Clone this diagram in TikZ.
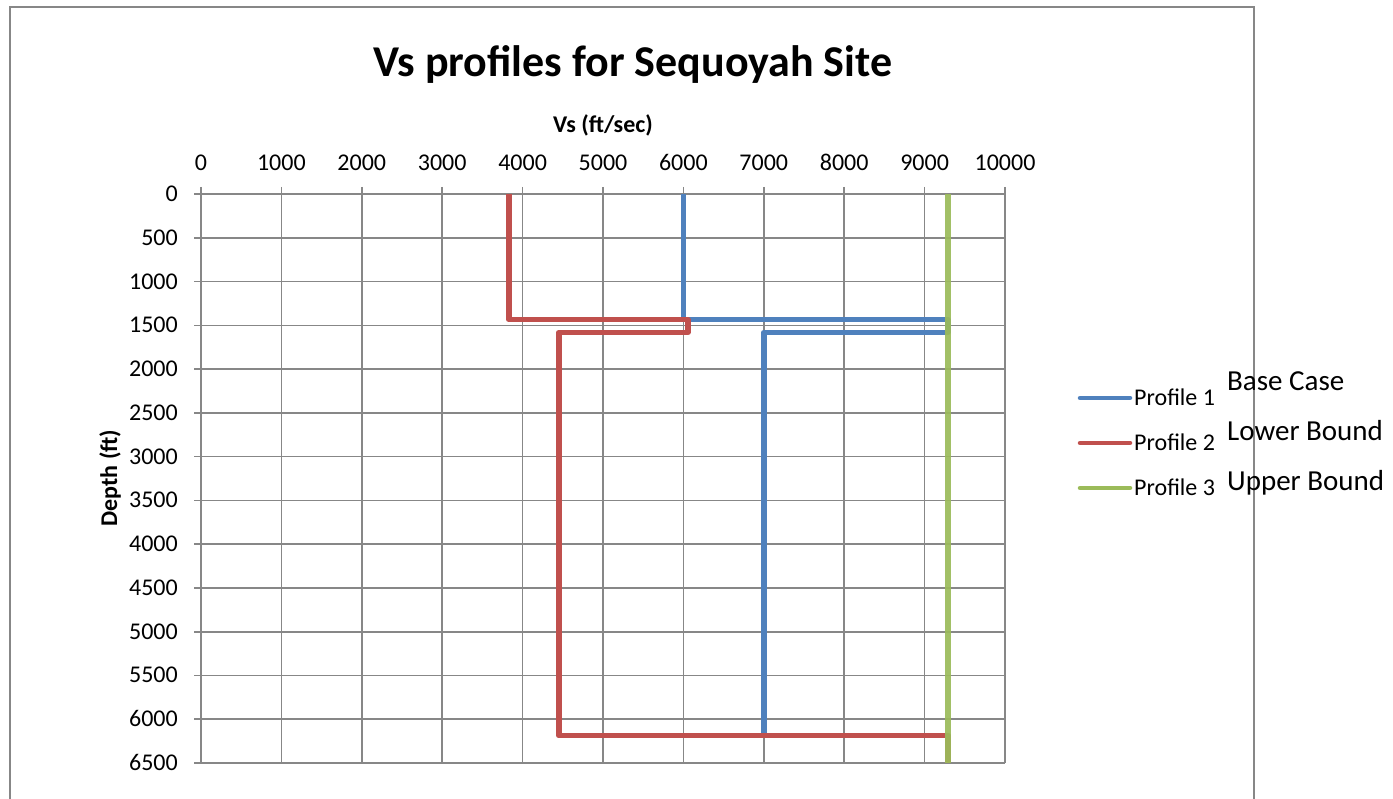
\documentclass[tikz,border=0pt]{standalone}
\usepackage{fontspec}
\setmainfont{Carlito}
\definecolor{sblue}{HTML}{4F81BD}
\definecolor{sred}{HTML}{C0504D}
\definecolor{sgreen}{HTML}{9BBB59}
\definecolor{gridgray}{HTML}{878787}
\begin{document}
\begin{tikzpicture}[x=1pt,y=-1pt,
  gridline/.style={draw=gridgray,line width=1.6pt},
  ticklab/.style={font=\fontsize{24}{28}\selectfont,inner sep=0pt},
  axlab/.style={font=\fontsize{24}{28}\selectfont\bfseries,inner sep=0pt},
  series/.style={line width=5.5pt,line join=round},
  legtext/.style={font=\fontsize{24}{28}\selectfont,inner sep=0pt,anchor=west},
  bigtext/.style={font=\fontsize{29}{33}\selectfont,inner sep=0pt,anchor=west}]
\useasboundingbox (0,0) rectangle (1393,799);
\clip (0,0) rectangle (1393,799);
\fill[white] (0,0) rectangle (1393,799);
\draw[draw=gridgray,line width=1.3pt] (10,7) rectangle (1254,830);
% title
\node[font=\fontsize{44}{50}\selectfont\bfseries,anchor=base,inner sep=0pt] (title) at (633,77) {Vs profiles for Sequoyah Site};
\node[axlab,anchor=base] (xlab) at (603,133) {Vs (ft/sec)};
\node[axlab,rotate=90] (ylab) at (110,478) {Depth (ft)};
% grid + ticks
\foreach \i in {0,...,10}{
  \pgfmathsetmacro{\xx}{201+80.4*\i}
  \draw[gridline] (\xx,187) -- (\xx,763);
  \pgfmathtruncatemacro{\lab}{1000*\i}
  \node[ticklab,anchor=base] (xt\i) at (\xx,170.5) {\lab};
}
\foreach \j in {0,...,13}{
  \pgfmathsetmacro{\yy}{194+43.77*\j}
  \draw[gridline] (194,\yy) -- (1005,\yy);
  \pgfmathtruncatemacro{\lab}{500*\j}
  \node[ticklab,anchor=base east] (yt\j) at (178,\yy+7.5) {\lab};
}
\begin{scope}[shift={(201,194)},x=0.0804pt,y=-0.08754pt]
  \draw[series,sblue] (6000,0) -- (6000,1435) -- (9290,1435) -- (9290,1582) -- (7000,1582) -- (7000,6188) -- (9290,6188) -- (9290,6500);
  \draw[series,sred] (3830,0) -- (3830,1435) -- (6055,1435) -- (6055,1582) -- (4450,1582) -- (4450,6188) -- (9290,6188) -- (9290,6500);
  \draw[series,sgreen,opacity=0.92] (9290,0) -- (9290,6500);
\end{scope}
% legend
\coordinate (l1a) at (1080,398); \coordinate (l1b) at (1130,398);
\coordinate (l2a) at (1080,443); \coordinate (l2b) at (1130,443);
\coordinate (l3a) at (1080,488); \coordinate (l3b) at (1130,488);
\draw[sblue,line width=4.5pt,line cap=round] (l1a) -- (l1b);
\draw[sred,line width=4.5pt,line cap=round] (l2a) -- (l2b);
\draw[sgreen,line width=4.5pt,line cap=round] (l3a) -- (l3b);
\node[legtext,anchor=base west] (p1) at (1134,405.5) {Profile 1};
\node[legtext,anchor=base west] (p2) at (1134,450.5) {Profile 2};
\node[legtext,anchor=base west] (p3) at (1134,495.5) {Profile 3};
\node[bigtext,anchor=base west] (b1) at (1227,391) {Base Case};
\node[bigtext,anchor=base west] (b2) at (1227,441) {Lower Bound};
\node[bigtext,anchor=base west] (b3) at (1227,490) {Upper Bound};
\end{tikzpicture}
\end{document}
